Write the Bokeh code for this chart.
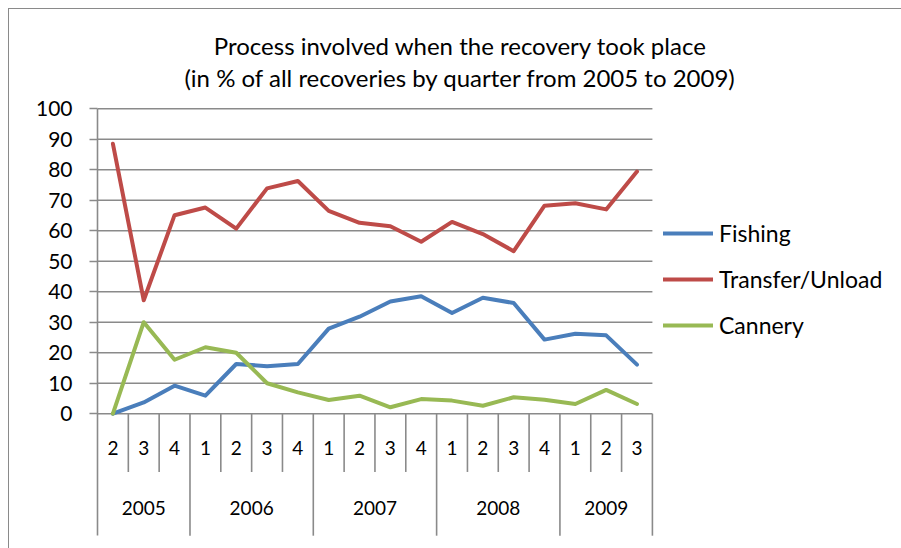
from bokeh.plotting import figure
from bokeh.models import Range1d, FixedTicker, Label, Legend, LegendItem
from bokeh.core.properties import value
from bokeh.embed import file_html
from bokeh.resources import INLINE

# ---------------- data ----------------
quarters = ["2", "3", "4", "1", "2", "3", "4", "1", "2", "3", "4",
            "1", "2", "3", "4", "1", "2", "3"]
quarter_years = ["2005"] * 3 + ["2006"] * 4 + ["2007"] * 4 + ["2008"] * 4 + ["2009"] * 3
years = ["2005", "2006", "2007", "2008", "2009"]
fishing = [0.0, 3.7, 9.2, 5.9, 16.3, 15.6, 16.3, 27.9, 31.8, 36.8, 38.5,
           33.0, 38.0, 36.3, 24.3, 26.2, 25.7, 16.1]
transfer_unload = [88.5, 37.2, 65.1, 67.6, 60.7, 73.9, 76.3, 66.5, 62.6, 61.5, 56.4,
                   62.9, 58.9, 53.3, 68.2, 69.0, 67.0, 79.4]
cannery = [0.0, 30.0, 17.7, 21.8, 20.0, 10.0, 7.0, 4.5, 5.9, 2.1, 4.8,
           4.3, 2.6, 5.4, 4.6, 3.2, 7.8, 3.2]
y_ticks = [0, 10, 20, 30, 40, 50, 60, 70, 80, 90, 100]
series_names = ["Fishing", "Transfer/Unload", "Cannery"]
title_lines = ["Process involved when the recovery took place",
               "(in % of all recoveries by quarter from 2005 to 2009)"]

# ---------------- style ----------------
FONT = "Lato"
GRID = "#8a8a8a"
COLORS = ["#4A7EBB", "#BE4B48", "#98B954"]

n = len(quarters)
X_END = 26.08
Y_START, Y_END = -44.2, 135.5

p = figure(width=901, height=548, x_range=Range1d(0, X_END), y_range=Range1d(Y_START, Y_END),
           min_border_left=97, min_border_right=0, min_border_top=0, min_border_bottom=0,
           toolbar_location=None, output_backend="svg", x_axis_location=None)
p.outline_line_color = None
p.grid.visible = False
p.background_fill_color = None
p.border_fill_color = None
# outer chart frame (top and left edges) drawn behind the transparent canvas
p.styles = {
    "background": ("linear-gradient(#8a8a8a, #8a8a8a) 8px 8px / 1px 100% no-repeat, "
                   "linear-gradient(#8a8a8a, #8a8a8a) 8px 8px / 100% 1px no-repeat, white"),
}

ax = p.yaxis[0]
ax.ticker = FixedTicker(ticks=y_ticks)
ax.bounds = (-40, 100)
ax.axis_line_color = GRID
ax.axis_line_width = 1.6
ax.major_tick_out = 8
ax.major_tick_in = 0
ax.major_tick_line_color = GRID
ax.major_tick_line_width = 1.6
ax.minor_tick_line_color = None
ax.major_label_standoff = 17
ax.major_label_text_font = FONT
ax.major_label_text_font_size = "21px"
ax.major_label_text_color = "black"

# horizontal gridlines + category axis line
p.segment(x0=[0] * len(y_ticks), x1=[n] * len(y_ticks), y0=y_ticks, y1=y_ticks,
          line_color=GRID, line_width=1.6)

# category separators
boundaries_year = [0]
for i in range(1, n):
    if quarter_years[i] != quarter_years[i - 1]:
        boundaries_year.append(i)
boundaries_year.append(n)
q_bounds = [i for i in range(1, n) if i not in boundaries_year]
p.segment(x0=q_bounds, x1=q_bounds, y0=[0] * len(q_bounds), y1=[-19.1] * len(q_bounds),
          line_color=GRID, line_width=1.6)
yb = boundaries_year[1:]
p.segment(x0=yb, x1=yb, y0=[0] * len(yb), y1=[-40] * len(yb),
          line_color=GRID, line_width=1.6)

xs = [i + 0.5 for i in range(n)]
p.text(x=xs, y=[-11.4] * n, text=quarters, text_font=value(FONT), text_font_size="19px",
       text_align="center", text_baseline="middle", text_color="black")
year_centers = [(boundaries_year[k] + boundaries_year[k + 1]) / 2 for k in range(len(years))]
p.text(x=year_centers, y=[-31.0] * len(years), text=years, text_font=value(FONT),
       text_font_size="19px", text_align="center", text_baseline="middle", text_color="black")

# series
renderers = []
for vals, col in zip([fishing, transfer_unload, cannery], COLORS):
    r = p.line(xs, vals, line_color=col, line_width=4, line_join="round", line_cap="round")
    renderers.append(r)

legend = Legend(items=[LegendItem(label=nm, renderers=[r]) for nm, r in zip(series_names, renderers)],
                location=(566, 208), glyph_width=50, glyph_height=30, label_height=30,
                label_standoff=6, spacing=16, padding=0, margin=0,
                border_line_color=None, background_fill_alpha=0,
                label_text_font=FONT, label_text_font_size="23px", label_text_color="black")
p.add_layout(legend)

# title
for txt, yy in zip(title_lines, [120.8, 110.3]):
    p.add_layout(Label(x=11.77, y=yy, text=txt, text_align="center", text_baseline="middle",
                       text_font=FONT, text_font_size="24px", text_color="black"))

open("out.html", "w").write(file_html(p, INLINE))
